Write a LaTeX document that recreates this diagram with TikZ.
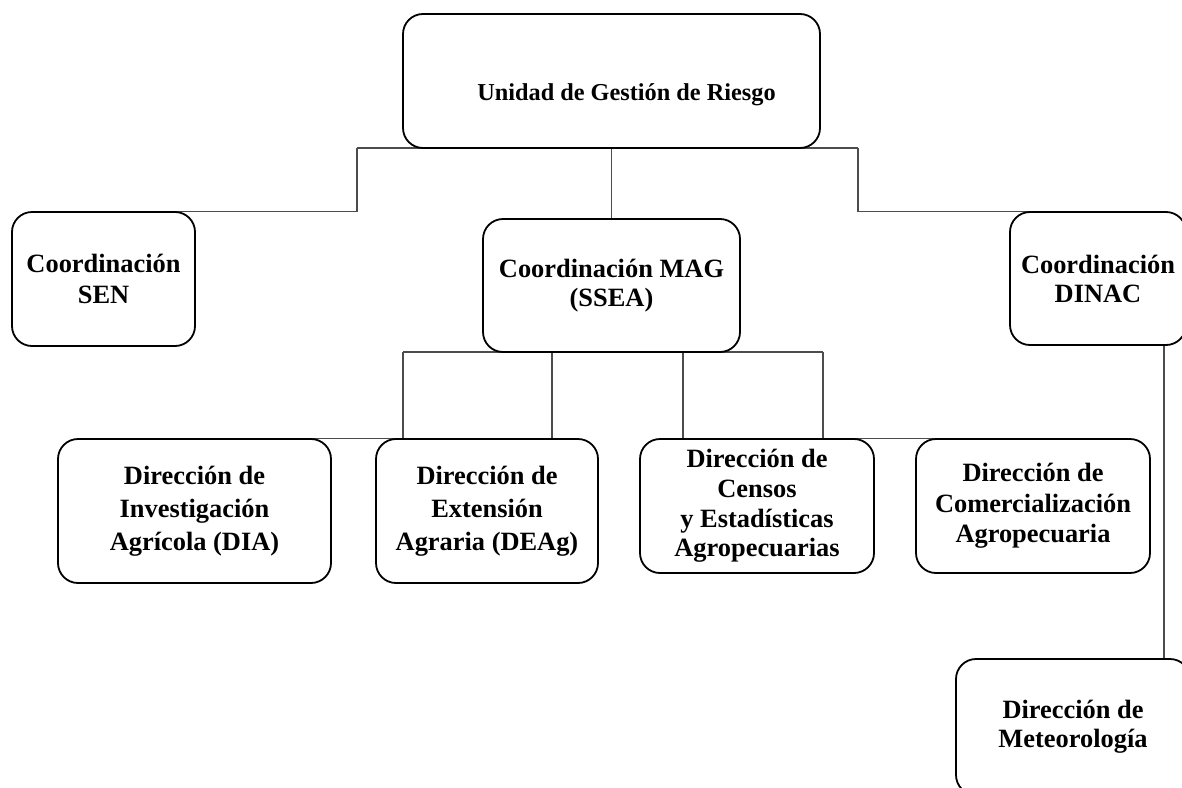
\documentclass[tikz,border=0pt]{standalone}
\usepackage{fontspec}
\setmainfont{Liberation Serif}
\usetikzlibrary{backgrounds}
\begin{document}
\begin{tikzpicture}[x=1pt,y=-1pt,
  box/.style={draw=black, line width=1.8pt, fill=white, rounded corners=20pt, align=center, inner sep=0pt},
  conn/.style={draw=black!70, line width=1.1pt}]
\useasboundingbox (0,0) rectangle (1182,787);
\clip (0,0) rectangle (1182,787);
\node[box, minimum width=417pt, minimum height=134pt, text height=38pt, text depth=0pt,
      font=\bfseries\fontsize{24.3}{29}\selectfont] (top) at (611.5,81) {\hspace*{30pt}Unidad de Gestión de Riesgo};
\node[box, minimum width=183pt, minimum height=134pt, font=\bfseries\fontsize{26.4}{31}\selectfont] (SEN) at (103.5,279) {Coordinación\\SEN};
\node[box, minimum width=257pt, minimum height=133pt, font=\bfseries\fontsize{26.4}{29}\selectfont] (MAG) at (611.5,285.5) {Coordinación MAG\\(SSEA)};
\node[box, minimum width=176pt, minimum height=133pt, font=\bfseries\fontsize{26.4}{29}\selectfont] (DINAC) at (1098,278.5) {Coordinación\\DINAC};
\node[box, minimum width=273pt, minimum height=144pt, font=\bfseries\fontsize{26.4}{33}\selectfont] (DIA) at (194.5,511) {Dirección de\\Investigación\\Agrícola (DIA)};
\node[box, minimum width=222pt, minimum height=144pt, font=\bfseries\fontsize{26.4}{33}\selectfont] (DEAg) at (487,511) {Dirección de\\Extensión\\Agraria (DEAg)};
\node[box, minimum width=234pt, minimum height=134pt, font=\bfseries\fontsize{26.4}{29.7}\selectfont] (CEN) at (757,506) {Dirección de\\Censos\hspace*{.25em}\\y Estadísticas\\Agropecuarias};
\node[box, minimum width=234pt, minimum height=134pt, font=\bfseries\fontsize{26.4}{30.5}\selectfont] (COM) at (1033,506) {Dirección de\\Comercialización\\Agropecuaria};
\node[box, minimum width=234pt, minimum height=136pt, font=\bfseries\fontsize{26.4}{29}\selectfont] (MET) at (1073,727) {Dirección de\\Meteorología};
\begin{scope}[on background layer]
\coordinate (b1) at (357,148);
\coordinate (b2) at (858,148);
\draw[conn] (b1) -- (b2);
\draw[conn] (top.south) -- (MAG.north);
\draw[conn] (b1) |- (SEN.north);
\draw[conn] (b2) |- (DINAC.north);
\coordinate (m1) at (403,352);
\coordinate (m2) at (552,352);
\coordinate (m3) at (683,352);
\coordinate (m4) at (823,352);
\draw[conn] (m1) -- (m4);
\draw[conn] (m1) |- (DIA.north);
\draw[conn] (m2) -- (m2 |- DEAg.north);
\draw[conn] (m3) -- (m3 |- CEN.north);
\draw[conn] (m4) |- (COM.north);
\coordinate (dx) at (1164,0);
\draw[conn] (DINAC.south -| dx) -- (MET.north -| dx);
\end{scope}
\end{tikzpicture}
\end{document}
